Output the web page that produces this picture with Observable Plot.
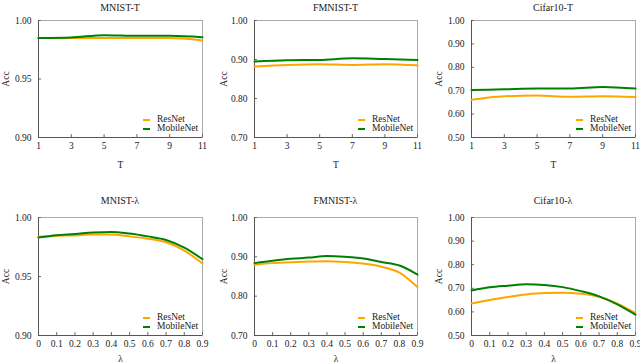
<!DOCTYPE html>
<html>
<head>
<meta charset="utf-8">
<script src="https://cdn.jsdelivr.net/npm/d3@7"></script>
<script src="https://cdn.jsdelivr.net/npm/@observablehq/plot@0.6"></script>
<style>
  html, body { margin: 0; padding: 0; background: #fff; }
  #root { position: relative; width: 640px; height: 363px; overflow: hidden; font-family: "Liberation Serif", "Tinos", "Times New Roman", "DejaVu Serif", serif; color: #222; }
  .cell { position: absolute; }
  .cell svg { position: absolute; left: 0; top: 0; overflow: visible; }
  .title { position: absolute; font-size: 10px; text-align: center; white-space: nowrap; transform: translateX(-50%); }
  .legend { position: absolute; font-size: 9.5px; line-height: 9px; }
  .legend .row { display: flex; align-items: center; height: 9px; }
  .legend .sw { width: 7px; height: 2px; margin-right: 7px; }
</style>
</head>
<body>
<div id="root"></div>
<script>
// ---- data ----
const T = [1, 3, 5, 7, 9, 11];
const LAMBDA = [0, 0.1, 0.2, 0.3, 0.4, 0.5, 0.6, 0.7, 0.8, 0.9];
const SERIES = ["ResNet", "MobileNet"];
const COLORS = ["#ffa500", "#008000"];

const mnistT_ResNet    = [0.985, 0.985, 0.985, 0.985, 0.985, 0.983];
const mnistT_MobileNet = [0.985, 0.9855, 0.9875, 0.987, 0.987, 0.9857];
const fmnistT_ResNet    = [0.882, 0.886, 0.888, 0.886, 0.888, 0.885];
const fmnistT_MobileNet = [0.895, 0.898, 0.899, 0.903, 0.901, 0.899];
const cifarT_ResNet    = [0.661, 0.676, 0.679, 0.674, 0.676, 0.673];
const cifarT_MobileNet = [0.703, 0.706, 0.709, 0.709, 0.716, 0.709];

const mnistL_ResNet    = [0.9836, 0.9845, 0.9848, 0.9855, 0.9855, 0.984, 0.982, 0.979, 0.972, 0.961];
const mnistL_MobileNet = [0.983, 0.985, 0.986, 0.9873, 0.9878, 0.9864, 0.984, 0.981, 0.9745, 0.9646];
const fmnistL_ResNet    = [0.880, 0.884, 0.886, 0.888, 0.889, 0.887, 0.883, 0.875, 0.860, 0.823];
const fmnistL_MobileNet = [0.884, 0.890, 0.895, 0.898, 0.902, 0.900, 0.896, 0.887, 0.878, 0.855];
const cifarL_ResNet    = [0.636, 0.650, 0.663, 0.674, 0.680, 0.681, 0.677, 0.664, 0.635, 0.595];
const cifarL_MobileNet = [0.691, 0.704, 0.711, 0.717, 0.714, 0.705, 0.688, 0.666, 0.632, 0.588];

const yTicksMnist = [0.90, 0.95, 1.00];
const yTicksFmnist = [0.70, 0.80, 0.90, 1.00];
const yTicksCifar = [0.50, 0.60, 0.70, 0.80, 0.90, 1.00];

const titles = ["MNIST-T", "FMNIST-T", "Cifar10-T", "MNIST-λ", "FMNIST-λ", "Cifar10-λ"];

const panels = [
  {title: titles[0], x: T, xl: "T", res: mnistT_ResNet, mob: mnistT_MobileNet, yTicks: yTicksMnist},
  {title: titles[1], x: T, xl: "T", res: fmnistT_ResNet, mob: fmnistT_MobileNet, yTicks: yTicksFmnist},
  {title: titles[2], x: T, xl: "T", res: cifarT_ResNet, mob: cifarT_MobileNet, yTicks: yTicksCifar},
  {title: titles[3], x: LAMBDA, xl: "λ", res: mnistL_ResNet, mob: mnistL_MobileNet, yTicks: yTicksMnist},
  {title: titles[4], x: LAMBDA, xl: "λ", res: fmnistL_ResNet, mob: fmnistL_MobileNet, yTicks: yTicksFmnist},
  {title: titles[5], x: LAMBDA, xl: "λ", res: cifarL_ResNet, mob: cifarL_MobileNet, yTicks: yTicksCifar}
];

// ---- layout ----
const cols = [
  {left: 0, width: 213, ml: 38, mr: 11, lo: 36},
  {left: 213, width: 213, ml: 41, mr: 9, lo: 34},
  {left: 426, width: 214, ml: 45, mr: 5, lo: 36}
];
const rows = [
  {top: 0, height: 181, mt: 20, mb: 44, lo: 30, titleTop: 2},
  {top: 181, height: 182, mt: 36, mb: 28, lo: 26.5, titleTop: 14}
];

const FONT = "'Liberation Serif', 'Tinos', 'Times New Roman', 'DejaVu Serif', serif";
const root = document.getElementById("root");

panels.forEach((p, i) => {
  const c = cols[i % 3], r = rows[Math.floor(i / 3)];
  const data = p.x.flatMap((x, k) => [
    {x, y: p.res[k], s: SERIES[0]},
    {x, y: p.mob[k], s: SERIES[1]}
  ]);
  const xd = [p.x[0], p.x[p.x.length - 1]];
  const yd = [p.yTicks[0], p.yTicks[p.yTicks.length - 1]];
  const xTickLen = (yd[1] - yd[0]) * 0.025;
  const yTickLen = (xd[1] - xd[0]) * 0.018;

  const chart = Plot.plot({
    width: c.width,
    height: r.height,
    marginLeft: c.ml,
    marginRight: c.mr,
    marginTop: r.mt,
    marginBottom: r.mb,
    style: {fontFamily: FONT, fontSize: "9.5px", color: "#222", background: "transparent"},
    x: {domain: xd, ticks: p.x, tickFormat: d => String(d), tickSize: 0, tickPadding: 5,
        label: p.xl, labelAnchor: "center", labelOffset: r.lo, labelArrow: "none"},
    y: {domain: yd, ticks: p.yTicks, tickFormat: d3.format(".2f"), tickSize: 0, tickPadding: 7,
        label: "Acc", labelAnchor: "center", labelOffset: c.lo, labelArrow: "none"},
    color: {domain: SERIES, range: COLORS},
    marks: [
      Plot.frame({stroke: "#aaa"}),
      Plot.ruleX(p.x, {x: d => d, y1: yd[0], y2: yd[0] + xTickLen, stroke: "#666"}),
      Plot.ruleY(p.yTicks, {y: d => d, x1: xd[0], x2: xd[0] + yTickLen, stroke: "#666"}),
      Plot.ruleX([xd[0]], {stroke: "#555"}),
      Plot.ruleY([yd[0]], {stroke: "#555"}),
      Plot.line(data, {x: "x", y: "y", z: "s", stroke: "s", strokeWidth: 2, curve: "monotone-x"})
    ]
  });

  const cell = document.createElement("div");
  cell.className = "cell";
  cell.style.left = c.left + "px";
  cell.style.top = r.top + "px";
  cell.style.width = c.width + "px";
  cell.style.height = r.height + "px";
  cell.appendChild(chart);

  const title = document.createElement("div");
  title.className = "title";
  title.textContent = p.title;
  title.style.left = (c.ml + (c.width - c.ml - c.mr) / 2) + "px";
  title.style.top = r.titleTop + "px";
  cell.appendChild(title);

  const legend = document.createElement("div");
  legend.className = "legend";
  legend.style.left = (c.width - c.mr - 59) + "px";
  legend.style.top = (r.height - r.mb - 22) + "px";
  SERIES.forEach((s, k) => {
    const row = document.createElement("div");
    row.className = "row";
    const sw = document.createElement("span");
    sw.className = "sw";
    sw.style.background = COLORS[k];
    const tx = document.createElement("span");
    tx.textContent = s;
    row.appendChild(sw);
    row.appendChild(tx);
    legend.appendChild(row);
  });
  cell.appendChild(legend);

  root.appendChild(cell);
});
</script>
</body>
</html>
